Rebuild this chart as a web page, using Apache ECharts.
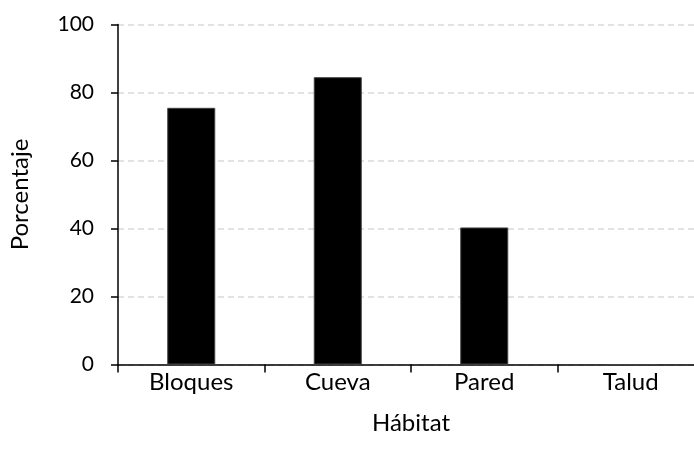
<!DOCTYPE html>
<html><head><meta charset="utf-8">
<script src="https://cdn.jsdelivr.net/npm/echarts@6/dist/echarts.min.js"></script>
<style>html,body{margin:0;padding:0;background:#fff;overflow:hidden;width:694px;height:461px}#c{width:704px;height:461px}</style>
</head><body><div id="c"></div>
<script>
const categories = ['Bloques', 'Cueva', 'Pared', 'Talud'];
const values = [75.5, 84.5, 40.3, 0];
const yTicks = [0, 20, 40, 60, 80, 100];

const font = 'Lato, "Open Sans", sans-serif';
const chart = echarts.init(document.getElementById('c'));
chart.setOption({
  animation: false,
  grid: { left: 117, top: 24.5, right: 0, height: 340, containLabel: false },
  xAxis: {
    type: 'category', data: categories,
    name: 'Hábitat', nameLocation: 'middle', nameGap: 47,
    nameTextStyle: { fontFamily: font, fontSize: 24, color: '#000' },
    axisLine: { lineStyle: { color: '#000', width: 1.5 } },
    axisTick: { show: true, alignWithLabel: false, length: 8, lineStyle: { color: '#000', width: 1.5 } },
    axisLabel: { fontFamily: font, fontSize: 24, color: '#000', margin: 6 },
    splitLine: { show: false }
  },
  yAxis: {
    type: 'value', min: yTicks[0], max: yTicks[yTicks.length - 1], interval: 20,
    name: 'Porcentaje', nameLocation: 'middle', nameGap: 86,
    nameTextStyle: { fontFamily: font, fontSize: 24, color: '#000' },
    axisLine: { show: true, lineStyle: { color: '#000', width: 1.5 } },
    axisTick: { show: true, length: 7, lineStyle: { color: '#000', width: 1.5 } },
    axisLabel: { fontFamily: font, fontSize: 21, color: '#000', margin: 24 },
    splitLine: { show: true, lineStyle: { color: '#d9d9d9', type: [6, 4], width: 1.5 } }
  },
  series: [{
    type: 'bar', data: values, barWidth: 48,
    itemStyle: { color: '#000', borderColor: '#404040', borderWidth: 1 }
  }]
});
</script></body></html>
